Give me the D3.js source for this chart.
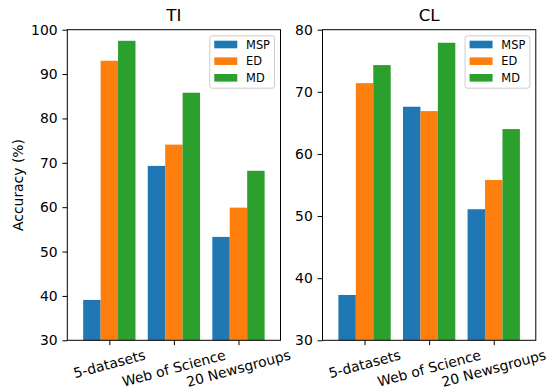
<!DOCTYPE html>
<html>
<head>
<meta charset="utf-8">
<script src="https://cdn.jsdelivr.net/npm/d3@7"></script>
<style>
  html, body { margin: 0; padding: 0; background: #fff; }
  svg { display: block; font-family: "DejaVu Sans", sans-serif; }
  svg text { font-family: "DejaVu Sans", sans-serif; fill: #000; }
</style>
</head>
<body>
<svg id="chart" width="548" height="387"></svg>
<script>
// ---- Data ----
const categories = ["5-datasets", "Web of Science", "20 Newsgroups"];
const seriesNames = ["MSP", "ED", "MD"];
const colors = ["#1f77b4", "#ff7f0e", "#2ca02c"];

const tiMSP = [39.1, 69.3, 53.3];
const tiED  = [93.0, 74.1, 59.9];
const tiMD  = [97.5, 85.8, 68.2];
const tiTicks = [30, 40, 50, 60, 70, 80, 90, 100];

const clMSP = [37.3, 67.6, 51.1];
const clED  = [71.4, 66.9, 55.8];
const clMD  = [74.3, 77.9, 64.0];
const clTicks = [30, 40, 50, 60, 70, 80];

const panels = [
  { title: "TI", series: [tiMSP, tiED, tiMD], ticks: tiTicks, ydom: [30, 100], x0: 67.3, x1: 280.5, ylabel: "Accuracy (%)" },
  { title: "CL", series: [clMSP, clED, clMD], ticks: clTicks, ydom: [30, 80], x0: 322.5, x1: 535.8, ylabel: null }
];

const svg = d3.select("#chart");
const plotTop = 29.7, plotBottom = 340.3;
const barW = 0.27;
const tickLen = 4.86, tickPad = 4.86;
const tickFont = 13.9;
const titleFont = 16.7;
const legendFont = 11.4;

panels.forEach(p => {
  const x = d3.scaleLinear().domain([-0.651, 2.651]).range([p.x0, p.x1]);
  const y = d3.scaleLinear().domain(p.ydom).range([plotBottom, plotTop]);
  const g = svg.append("g");

  // bars
  p.series.forEach((vals, si) => {
    g.selectAll(null).data(vals).enter().append("rect")
      .attr("x", (d, i) => x(i + (si - 1) * barW - barW / 2))
      .attr("width", (d, i) => x(i + (si - 1) * barW + barW / 2) - x(i + (si - 1) * barW - barW / 2))
      .attr("y", d => y(d))
      .attr("height", d => y(p.ydom[0]) - y(d))
      .attr("fill", colors[si]);
  });

  // y axis
  const yAxis = d3.axisLeft(y).tickValues(p.ticks).tickSize(tickLen).tickPadding(tickPad).tickFormat(d3.format("d"));
  const ya = g.append("g").attr("transform", `translate(${p.x0},0)`).call(yAxis);
  ya.select(".domain").remove();
  ya.attr("font-size", null).attr("font-family", null);
  ya.selectAll("text").style("font-size", tickFont + "px");
  ya.selectAll("line").attr("stroke", "#000");

  // x axis
  const xAxis = d3.axisBottom(x).tickValues([0, 1, 2]).tickSize(tickLen).tickFormat(() => "");
  const xa = g.append("g").attr("transform", `translate(0,${plotBottom})`).call(xAxis);
  xa.select(".domain").remove();
  xa.selectAll("line").attr("stroke", "#000");

  // rotated x tick labels
  const angle = 15 * Math.PI / 180;
  const labTop = plotBottom + tickLen + tickPad - 3.5;
  categories.forEach((c, i) => {
    const t = g.append("text")
      .style("font-size", tickFont + "px")
      .attr("text-anchor", "middle")
      .attr("dominant-baseline", "central")
      .text(c);
    const w = t.node().getComputedTextLength();
    const h = tickFont * 1.164;
    const cy = labTop + (w * Math.sin(angle) + h * Math.cos(angle)) / 2;
    const cx = x(i);
    t.attr("transform", `translate(${cx},${cy}) rotate(-15)`);
  });

  // frame
  g.append("rect")
    .attr("x", p.x0).attr("y", plotTop)
    .attr("width", p.x1 - p.x0).attr("height", plotBottom - plotTop)
    .attr("fill", "none").attr("stroke", "#000").attr("stroke-width", 1);

  // title
  g.append("text")
    .attr("x", (p.x0 + p.x1) / 2).attr("y", 21.2)
    .attr("text-anchor", "middle")
    .style("font-size", titleFont + "px")
    .text(p.title);

  // y label
  if (p.ylabel) {
    g.append("text")
      .attr("transform", `translate(23,${(plotTop + plotBottom) / 2}) rotate(-90)`)
      .attr("text-anchor", "middle")
      .style("font-size", tickFont + "px")
      .text(p.ylabel);
  }

  // legend
  const lg = g.append("g");
  const boxR = p.x1 - 6;
  const frame = lg.append("rect");
  let maxW = 0;
  const texts = seriesNames.map((s, si) => {
    const t = lg.append("text")
      .attr("dominant-baseline", "central")
      .style("font-size", legendFont + "px")
      .text(s);
    maxW = Math.max(maxW, t.node().getComputedTextLength());
    return t;
  });
  const boxW = 4.5 + 23 + 8.8 + maxW + 4.5;
  const boxL = boxR - boxW;
  frame
    .attr("x", boxL).attr("y", 35.8)
    .attr("width", boxW).attr("height", 52.4)
    .attr("rx", 2.3).attr("ry", 2.3)
    .attr("fill", "rgba(255,255,255,0.8)")
    .attr("stroke", "#cccccc").attr("stroke-width", 1);
  seriesNames.forEach((s, si) => {
    const cy = 44.5 + si * 16.65;
    lg.insert("rect", "text")
      .attr("x", boxL + 4.5).attr("y", cy - 3.8)
      .attr("width", 23).attr("height", 7.6)
      .attr("fill", colors[si]);
    texts[si].attr("x", boxL + 4.5 + 23 + 8.8).attr("y", cy);
  });
});
</script>
</body>
</html>
